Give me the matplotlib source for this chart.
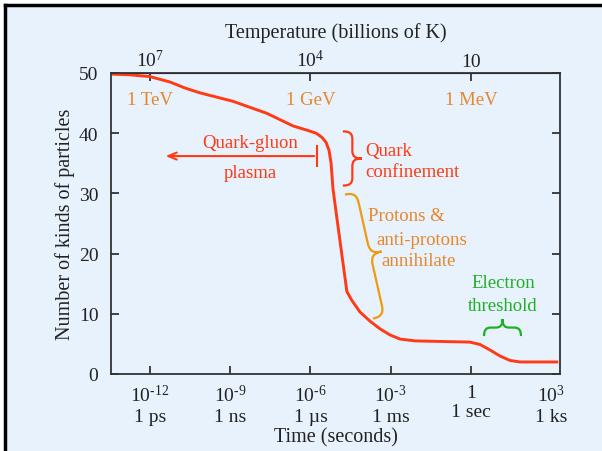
import numpy as np
import matplotlib
matplotlib.use("Agg")
import matplotlib.pyplot as plt
from matplotlib.path import Path
from matplotlib.patches import PathPatch, Rectangle
from matplotlib.transforms import IdentityTransform

plt.rcParams['font.family'] = ['Liberation Serif', 'DejaVu Serif']
plt.rcParams['mathtext.fontset'] = 'custom'
plt.rcParams['mathtext.rm'] = 'Liberation Serif'
plt.rcParams['mathtext.it'] = 'Liberation Serif:italic'
plt.rcParams['mathtext.default'] = 'regular'

# number of kinds of particles vs log10(time in seconds)
log_time = [-13.38, -12.75, -12.0, -11.25, -10.69, -10.13, -8.9, -7.63, -6.65, -6.13,
            -5.79, -5.57, -5.42, -5.31, -5.23, -5.16, -5.01, -4.64, -4.45, -4.15,
            -3.78, -3.4, -3.03, -2.65, -2.09, -0.04, 0.34, 0.71, 1.08, 1.46,
            1.83, 3.21]
n_kinds = [49.8, 49.7, 49.4, 48.5, 47.5, 46.7, 45.3, 43.3, 41.2, 40.5,
           40.0, 39.3, 38.5, 37.2, 35.0, 30.8, 25.8, 13.7, 12.2, 10.3,
           8.8, 7.5, 6.5, 5.8, 5.5, 5.3, 4.9, 4.0, 3.0, 2.25,
           2.0, 2.0]

time_ticks = [-12, -9, -6, -3, 0, 3]
time_labels = ['10$^{\u201012}$\n1 ps', '10$^{\u20109}$\n1 ns', '10$^{\u20106}$\n1 \u00b5s',
               '10$^{\u20103}$\n1 ms', '1\n1 sec', '10$^{3}$\n1 ks']
temp_ticks = [-12, -6, 0]
temp_labels = ['10$^{7}$', '10$^{4}$', '10']
energy_labels = ['1 TeV', '1 GeV', '1 MeV']
y_ticks = [0, 10, 20, 30, 40, 50]

BG = '#e7f2fd'
RED = '#ff3a14'
ORANGE_TXT = '#e8862a'
ORANGE_BR = '#f09a10'
GREEN = '#1fae25'
AX = '#333333'
TXT = '#222222'

fig = plt.figure(figsize=(6.02, 4.52), dpi=100, facecolor='white')
fig.patches.append(Rectangle((5/602, 0), 1, 1 - 6/452, transform=fig.transFigure,
                             facecolor=BG, edgecolor='none', zorder=-10))
ax = fig.add_axes([111/602, 1 - 375/452, 449/602, 301/452])
ax.set_facecolor(BG)
fig.add_artist(plt.Line2D([5/602, 5/602], [0, 1 - 6/452], transform=fig.transFigure,
                          color='black', lw=2.5))
fig.add_artist(plt.Line2D([5/602, 1], [1 - 6/452, 1 - 6/452], transform=fig.transFigure,
                          color='black', lw=2.5))

ax.plot(log_time, n_kinds, color=RED, lw=2.1, solid_joinstyle='round')
ax.set_xlim(-13.46, 3.33)
ax.set_ylim(0, 50)

for s in ax.spines.values():
    s.set_color(AX)
    s.set_linewidth(1.3)

ax.set_xticks(time_ticks)
ax.set_xticklabels(time_labels, fontsize=14, linespacing=1.2)
ax.set_yticks(y_ticks)
ax.set_yticklabels([str(v) for v in y_ticks], fontsize=14)
ax.tick_params(axis='both', direction='in', length=6, width=1.3, color=AX, labelcolor=TXT)
ax.tick_params(axis='y', right=True, pad=9)
ax.tick_params(axis='x', pad=7)
ax.xaxis.get_major_ticks()[-1].tick1line.set_visible(False)
ax.set_xlabel('Time (seconds)', fontsize=14.5, color=TXT, labelpad=2)
ax.set_ylabel('Number of kinds of particles', fontsize=14.5, color=TXT, labelpad=3)

top = ax.secondary_xaxis('top')
top.set_xticks(temp_ticks)
top.set_xticklabels(temp_labels, fontsize=14)
top.tick_params(direction='in', length=6, width=1.3, color=AX, labelcolor=TXT, pad=2)
top.set_xlabel('Temperature (billions of K)', fontsize=14.5, color=TXT, labelpad=9)

for xt, lab in zip(temp_ticks, energy_labels):
    ax.text(xt, 45.6, lab, color=ORANGE_TXT, fontsize=13.5, ha='center', va='center')

# quark-gluon plasma arrow
ax.annotate('', xy=(-11.52, 36.2), xytext=(-5.75, 36.2),
            arrowprops=dict(arrowstyle='->,head_length=0.6,head_width=0.25', color=RED, lw=1.5))
ax.plot([-5.75, -5.75], [34.6, 37.8], color=RED, lw=1.5)
ax.text(-8.25, 38.4, 'Quark-gluon', color=RED, fontsize=13.5, ha='center', va='center')
ax.text(-8.25, 33.4, 'plasma', color=RED, fontsize=13.5, ha='center', va='center')


def brace(p0, p1, h, r, color):
    # curly brace between two data points, tip h pixels to the left of p0->p1
    a = ax.transData.transform(p0)
    b = ax.transData.transform(p1)
    d = b - a
    L = np.hypot(*d)
    u = d / L
    n = np.array([-u[1], u[0]])

    def P(s, t):
        return a + u * s + n * t

    m = L / 2
    hh = h / 2
    verts = [P(0, 0),
             P(0, hh * 0.75), P(r * 0.3, hh), P(r, hh),
             P(m - r, hh),
             P(m - r * 0.3, hh), P(m, hh * 1.25), P(m, h),
             P(m, hh * 1.25), P(m + r * 0.3, hh), P(m + r, hh),
             P(L - r, hh),
             P(L - r * 0.3, hh), P(L, hh * 0.75), P(L, 0)]
    codes = [Path.MOVETO, Path.CURVE4, Path.CURVE4, Path.CURVE4, Path.LINETO,
             Path.CURVE4, Path.CURVE4, Path.CURVE4, Path.CURVE4, Path.CURVE4, Path.CURVE4,
             Path.LINETO, Path.CURVE4, Path.CURVE4, Path.CURVE4]
    ax.add_patch(PathPatch(Path(verts, codes), transform=IdentityTransform(),
                           facecolor='none', edgecolor=color, lw=1.6, clip_on=False))


fig.canvas.draw()
brace((-4.79, 40.3), (-4.79, 31.3), 19, 8, RED)
ax.text(-3.95, 37.2, 'Quark', color=RED, fontsize=13.5, ha='left', va='center')
ax.text(-3.95, 33.6, 'confinement', color=RED, fontsize=13.5, ha='left', va='center')

brace((-4.71, 29.8), (-3.66, 9.2), 23, 11, ORANGE_BR)
ax.text(-2.4, 26.3, 'Protons &', color=ORANGE_TXT, fontsize=13.5, ha='center', va='center')
ax.text(-1.85, 22.3, 'anti-protons', color=ORANGE_TXT, fontsize=13.5, ha='center', va='center')
ax.text(-1.95, 18.8, 'annihilate', color=ORANGE_TXT, fontsize=13.5, ha='center', va='center')

brace((0.49, 6.3), (1.87, 6.3), 17, 7, GREEN)
ax.text(1.2, 15.2, 'Electron', color=GREEN, fontsize=13.5, ha='center', va='center')
ax.text(1.2, 11.4, 'threshold', color=GREEN, fontsize=13.5, ha='center', va='center')

fig.savefig('out.png', dpi=100, facecolor='white')
